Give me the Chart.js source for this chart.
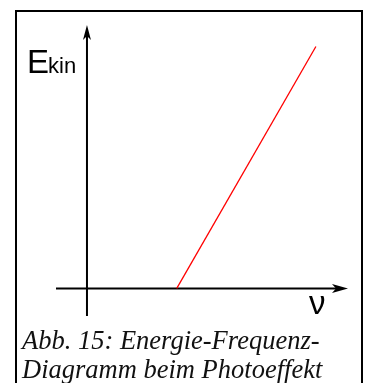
<!DOCTYPE html>
<html>
<head>
<meta charset="utf-8">
<script src="https://cdn.jsdelivr.net/npm/chart.js@4/dist/chart.umd.min.js"></script>
<style>
  html, body { margin: 0; padding: 0; background: #fff; overflow: hidden; }
  #wrap { position: relative; width: 369px; height: 383px; }
  #frame {
    position: absolute; left: 15px; top: 10px; width: 348px; height: 400px;
    border: 2px solid #000; box-sizing: border-box;
  }
  #chart { position: absolute; left: 0; top: 0; }
  #caption {
    position: absolute; left: 22px; top: 326px; width: 345px;
    font-family: "Liberation Serif", serif; font-style: italic;
    font-size: 26.5px; line-height: 28.5px; color: #111; white-space: nowrap;
  }
</style>
</head>
<body>
<div id="wrap">
  <div id="frame"></div>
  <canvas id="chart" width="369" height="383"></canvas>
  <div id="caption">Abb. 15: Energie-Frequenz-<br>Diagramm beim Photoeffekt</div>
</div>
<script>
// DATA
const frequency = [4.0, 10.2];   // nu, threshold frequency and upper end
const energy = [0, 10.8];        // E_kin
const xLabel = 'ν';
const yLabel = 'E';
const ySub = 'kin';

// axes with arrow heads, drawn through the scales
const axesPlugin = {
    id: 'axesArrows',
    beforeDatasetsDraw(chart) {
        const ctx = chart.ctx;
        const area = chart.chartArea;
        const x0 = chart.scales.x.getPixelForValue(0);
        const y0 = chart.scales.y.getPixelForValue(0);
        ctx.save();
        ctx.strokeStyle = '#000';
        ctx.fillStyle = '#000';
        ctx.lineWidth = 2;
        // x axis
        ctx.beginPath();
        ctx.moveTo(area.left, y0);
        ctx.lineTo(area.right - 8, y0);
        ctx.stroke();
        ctx.beginPath();
        ctx.moveTo(area.right, y0);
        ctx.lineTo(area.right - 16, y0 - 4.5);
        ctx.lineTo(area.right - 12, y0);
        ctx.lineTo(area.right - 16, y0 + 4.5);
        ctx.closePath();
        ctx.fill();
        // y axis
        ctx.beginPath();
        ctx.moveTo(x0, area.bottom);
        ctx.lineTo(x0, area.top + 8);
        ctx.stroke();
        ctx.beginPath();
        ctx.moveTo(x0, area.top);
        ctx.lineTo(x0 - 4, area.top + 15);
        ctx.lineTo(x0, area.top + 11);
        ctx.lineTo(x0 + 4, area.top + 15);
        ctx.closePath();
        ctx.fill();
        ctx.restore();
    },
    afterDraw(chart) {
        const ctx = chart.ctx;
        ctx.save();
        ctx.fillStyle = '#000';
        ctx.textBaseline = 'alphabetic';
        ctx.font = '33px "Liberation Sans", sans-serif';
        ctx.fillText(yLabel, 27, 73);
        const w = ctx.measureText(yLabel).width;
        ctx.font = '22px "Liberation Sans", sans-serif';
        ctx.fillText(ySub, 27 + w - 1, 73);
        ctx.font = '33px "Liberation Sans", sans-serif';
        ctx.fillText(xLabel, 309, 314);
        ctx.restore();
    }
};

new Chart(document.getElementById('chart'), {
    type: 'scatter',
    data: {
        datasets: [{
            data: frequency.map((f, i) => ({ x: f, y: energy[i] })),
            showLine: true,
            borderColor: '#ff0000',
            borderWidth: 1.3,
            pointRadius: 0
        }]
    },
    options: {
        responsive: false,
        animation: false,
        devicePixelRatio: 1,
        layout: { padding: { left: 56, right: 21, top: 25, bottom: 67 } },
        plugins: { legend: { display: false }, tooltip: { enabled: false } },
        scales: {
            x: { type: 'linear', min: -1.38, max: 11.63, display: false },
            y: { type: 'linear', min: -1.23, max: 11.76, display: false }
        }
    },
    plugins: [axesPlugin]
});
</script>
</body>
</html>
